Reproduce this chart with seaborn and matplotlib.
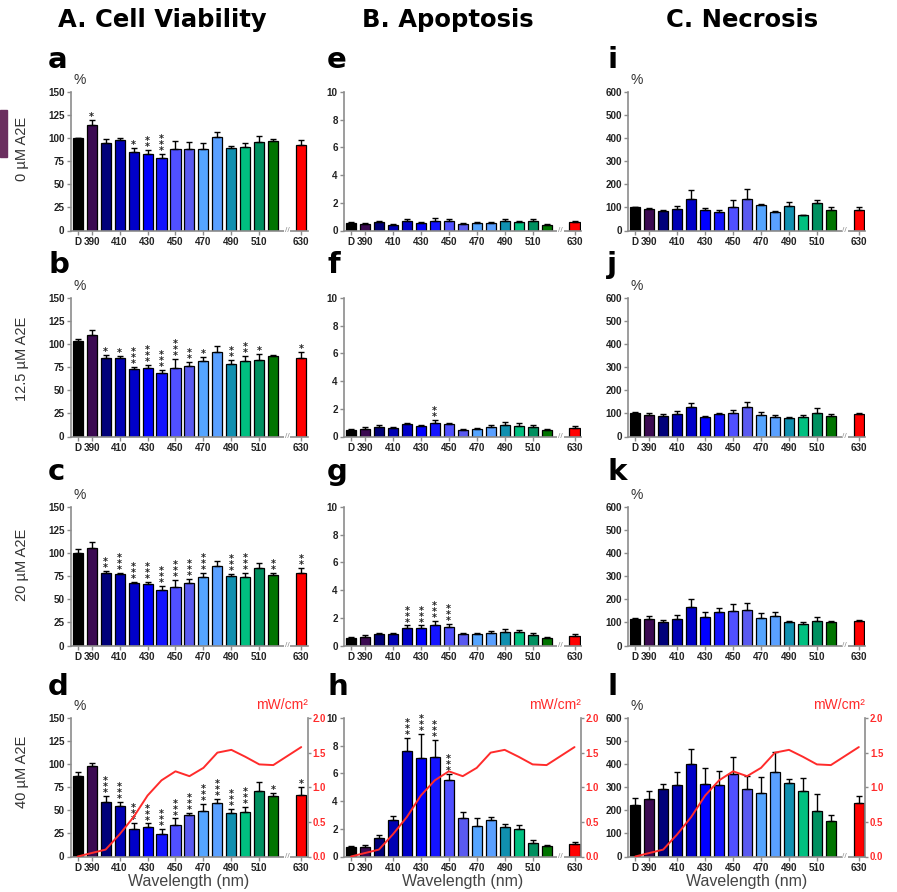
import matplotlib
matplotlib.use("Agg")
import matplotlib.pyplot as plt
import matplotlib.patches as patches
import numpy as np
import pandas as pd
import seaborn as sns

# Categorias del eje x (un hueco vacio separa 520 de 630)
longitudes = ['D', '390', '400', '410', '420', '430', '440', '450', '460',
              '470', '480', '490', '500', '510', '520', '630']
ordenEje = longitudes[:-1] + [' '] + ['630']
etiquetasX = ['D', '390', '410', '430', '450', '470', '490', '510', '630']
colores = ['#000000', '#3b0a52', '#00007a', '#0000b4', '#0000c8', '#0000ff',
           '#1414ff', '#5050ff', '#5a5af0', '#55a5ff', '#5aa0ff', '#1090b0',
           '#00c080', '#009060', '#007400', '#ff0000']

# Irradiancia de cada longitud de onda (mW/cm2)
irradiancia = [0.0, 0.05, 0.1, 0.32, 0.57, 0.88, 1.1, 1.23, 1.16, 1.28,
               1.5, 1.54, 1.44, 1.33, 1.32, 1.58]

# A. Viabilidad celular (%)
viab0 = [100, 114.5, 94.8, 97.7, 84.6, 82.8, 78.8, 88.3, 88, 88.6, 101, 89.4, 90.8, 96.3, 97, 93]
viab0Err = [0, 5.5, 4, 2, 4.5, 4, 4, 9, 7.5, 6, 5.5, 2, 4, 6, 2, 5]
viab0Sig = ['', '*', '', '', '*', '**', '***', '', '', '', '', '', '', '', '', '']

viab12 = [103, 110, 84.6, 84.6, 72.6, 74.5, 68.7, 74.5, 76.6, 82, 91, 78.8, 82, 82.8, 87.2, 85]
viab12Err = [3, 5, 3.5, 2.5, 3, 3.2, 3.3, 9.8, 3.7, 4, 7, 4, 5, 6.6, 1.4, 7]
viab12Sig = ['', '', '*', '*', '***', '***', '***', '***', '**', '*', '', '**', '**', '*', '', '*']

viab20 = [100.5, 106, 78.8, 77, 67.2, 66.1, 60, 63.6, 67.2, 73.7, 85.6, 75.2, 73.7, 84.2, 76.6, 78.3]
viab20Err = [3.5, 6, 2.2, 2, 1.5, 3, 4.3, 7.4, 5, 5.3, 5.8, 2.5, 4.7, 5.4, 2.2, 5.4]
viab20Sig = ['', '', '**', '***', '***', '***', '***', '***', '***', '***', '', '***', '***', '', '**', '**']

viab40 = [87.5, 97.5, 59, 55, 30, 32.2, 24, 34, 44.5, 49.2, 57.8, 47, 48.4, 70.8, 65.4, 67]
viab40Err = [4, 4, 6.8, 4.3, 6, 3.6, 6, 7.2, 2.8, 7.8, 4.7, 4.3, 5.1, 9.4, 3.3, 8.5]
viab40Sig = ['', '', '***', '***', '***', '***', '***', '***', '***', '***', '***', '***', '***', '', '*', '*']

# B. Apoptosis
apop0 = [0.55, 0.5, 0.6, 0.43, 0.72, 0.55, 0.72, 0.7, 0.48, 0.55, 0.53, 0.7, 0.6, 0.7, 0.4, 0.6]
apop0Err = [0.05, 0.05, 0.1, 0.05, 0.1, 0.07, 0.18, 0.1, 0.07, 0.07, 0.07, 0.15, 0.07, 0.15, 0.05, 0.1]
apop0Sig = [''] * 16

apop12 = [0.5, 0.55, 0.68, 0.58, 0.9, 0.77, 1.0, 0.92, 0.5, 0.55, 0.7, 0.85, 0.77, 0.7, 0.46, 0.6]
apop12Err = [0.05, 0.12, 0.17, 0.07, 0.07, 0.07, 0.2, 0.07, 0.05, 0.07, 0.1, 0.19, 0.2, 0.1, 0.05, 0.17]
apop12Sig = ['', '', '', '', '', '', '**', '', '', '', '', '', '', '', '', '']

apop20 = [0.55, 0.63, 0.84, 0.84, 1.25, 1.25, 1.5, 1.37, 0.84, 0.84, 0.92, 1.0, 0.94, 0.77, 0.55, 0.7]
apop20Err = [0.05, 0.1, 0.07, 0.05, 0.2, 0.2, 0.3, 0.2, 0.07, 0.07, 0.12, 0.2, 0.19, 0.1, 0.05, 0.14]
apop20Sig = ['', '', '', '', '***', '***', '***', '***', '', '', '', '', '', '', '', '']

apop40 = [0.67, 0.67, 1.33, 2.6, 7.6, 7.08, 7.18, 5.5, 2.77, 2.22, 2.6, 2.1, 2.0, 1.0, 0.77, 0.9]
apop40Err = [0.1, 0.15, 0.19, 0.3, 0.95, 1.79, 1.22, 0.43, 0.43, 0.55, 0.24, 0.26, 0.24, 0.18, 0.07, 0.18]
apop40Sig = ['', '', '', '', '***', '***', '***', '***', '', '', '', '', '', '', '', '']

# C. Necrosis (%)
necr0 = [100, 94, 84, 94, 136, 87, 82, 100, 136, 111, 80, 107, 65, 120, 87, 90]
necr0Err = [0, 3, 3, 11, 40, 10, 8, 30, 45, 5, 4, 16, 3, 13, 14, 13]
necr12 = [103, 93, 89, 97, 126, 84, 96, 102, 129, 92, 84, 81, 84, 100, 89, 97]
necr12Err = [3, 9, 7, 15, 18, 6, 7, 14, 19, 14, 9, 3, 10, 25, 10, 5]
necr20 = [116, 116, 101, 116, 166, 123, 145, 150, 155, 119, 126, 101, 91, 107, 101, 107]
necr20Err = [3, 10, 8, 16, 36, 20, 17, 31, 31, 22, 21, 3, 9, 17, 6, 3]
necr40 = [224, 247, 294, 308, 400, 312, 311, 359, 291, 276, 366, 318, 283, 196, 154, 230]
necr40Err = [29, 36, 18, 60, 65, 70, 58, 74, 58, 68, 87, 16, 58, 73, 25, 32]
necrSig = [''] * 16

filasTitulo = ['0 µM A2E', '12.5 µM A2E', '20 µM A2E', '40 µM A2E']
columnasTitulo = ['A. Cell Viability', 'B. Apoptosis', 'C. Necrosis']
letras = [['a', 'e', 'i'], ['b', 'f', 'j'], ['c', 'g', 'k'], ['d', 'h', 'l']]

sns.set_style("ticks")
plt.rcParams['font.family'] = ['Liberation Sans', 'DejaVu Sans']

GRIS = '#8c8c8c'
ROJO = '#ff2b2b'
ANCHO, ALTO = 897, 892
TAM_TICK = 7.1

posiciones = [ordenEje.index(c) for c in longitudes]
posTicks = [ordenEje.index(t) for t in etiquetasX]
paleta = dict(zip(longitudes, colores))


# Dibuja un panel de barras con barras de error hacia arriba y asteriscos
def dibujarPanel(ax, valores, errores, signif, ymax, paso, porcentaje):
    df = pd.DataFrame({'longitud': longitudes, 'valor': valores})
    sns.barplot(data=df, x='longitud', y='valor', order=ordenEje,
                hue='longitud', hue_order=longitudes, palette=paleta,
                legend=False, width=0.72, edgecolor='black', linewidth=0.9,
                saturation=1, ax=ax)
    ax.errorbar(posiciones, valores, yerr=[np.zeros(len(valores)), errores],
                fmt='none', ecolor='black', elinewidth=1.0, capsize=2.3,
                capthick=1.0, zorder=3)
    # asteriscos apilados en vertical sobre cada barra
    for p, v, e, s in zip(posiciones, valores, errores, signif):
        if s:
            ax.annotate('\n'.join(s), (p, v + e), xytext=(0, -1.5),
                        textcoords='offset points', ha='center', va='bottom',
                        fontsize=7, fontweight='bold', linespacing=0.5,
                        color='#222222', family=['DejaVu Sans'])
    ax.set_xlim(-0.5, 16.45)
    ax.set_ylim(0, ymax)
    ax.set_yticks(np.arange(0, ymax + paso / 2, paso))
    ax.set_xticks(posTicks)
    ax.set_xticklabels(etiquetasX)
    ax.set_xlabel('')
    ax.set_ylabel('')
    for lado in ['top', 'right']:
        ax.spines[lado].set_visible(False)
    for lado in ['left', 'bottom']:
        ax.spines[lado].set_color(GRIS)
        ax.spines[lado].set_linewidth(1.2)
    ax.tick_params(axis='both', length=3, width=1, color=GRIS, labelsize=TAM_TICK,
                   pad=1.5, labelcolor='#222222')
    for lbl in ax.get_xticklabels() + ax.get_yticklabels():
        lbl.set_fontweight('bold')
    # corte del eje x entre 520 y 630
    ax.text(15.0, 0, '//', ha='center', va='center', fontsize=6, color=GRIS,
            bbox=dict(fc='white', ec='none', pad=0.6), clip_on=False, zorder=5)
    if porcentaje:
        ax.text(0.01, 1.035, '%', transform=ax.transAxes, ha='left',
                va='bottom', fontsize=10, color='#333333')


# Agrega el eje derecho con la curva de irradiancia
def dibujarIrradiancia(ax):
    ax2 = ax.twinx()
    sns.lineplot(x=posiciones, y=irradiancia, ax=ax2, color=ROJO,
                 linewidth=1.4, sort=False, legend=False)
    ax2.set_xlim(-0.5, 16.45)
    ax2.set_ylim(0, 2)
    ax2.set_yticks([0, 0.5, 1.0, 1.5, 2.0])
    ax2.set_yticklabels(['0.0', '0.5', '1.0', '1.5', '2.0'])
    ax2.set_ylabel('')
    for lado in ['top', 'left', 'bottom']:
        ax2.spines[lado].set_visible(False)
    ax2.spines['right'].set_color(GRIS)
    ax2.spines['right'].set_linewidth(1.2)
    ax2.tick_params(axis='y', length=2.5, width=1, color=GRIS, labelsize=6.9,
                    pad=1, labelcolor=ROJO)
    for lbl in ax2.get_yticklabels():
        lbl.set_fontweight('bold')
    ax2.text(1.0, 1.04, 'mW/cm²', transform=ax2.transAxes, ha='right',
             va='bottom', fontsize=10, color=ROJO)


paneles = [
    [(viab0, viab0Err, viab0Sig), (apop0, apop0Err, apop0Sig), (necr0, necr0Err, necrSig)],
    [(viab12, viab12Err, viab12Sig), (apop12, apop12Err, apop12Sig), (necr12, necr12Err, necrSig)],
    [(viab20, viab20Err, viab20Sig), (apop20, apop20Err, apop20Sig), (necr20, necr20Err, necrSig)],
    [(viab40, viab40Err, viab40Sig), (apop40, apop40Err, apop40Sig), (necr40, necr40Err, necrSig)],
]
escalas = [(150, 25, True), (10, 2, False), (600, 100, True)]

izquierdas = [70.7, 344, 628.3]
anchoEje = 236.8
arribas = [92, 298, 507, 718]
altoEje = 138.5
baseLetras = [68, 273, 480, 695]
centroFilas = [149, 359, 565, 772]
xLetras = [48, 327, 607]
centroColumnas = [162, 448, 742]

fig = plt.figure(figsize=(ANCHO / 100, ALTO / 100), dpi=100)

for f in range(4):
    for c in range(3):
        ax = fig.add_axes([izquierdas[c] / ANCHO,
                           1 - (arribas[f] + altoEje) / ALTO,
                           anchoEje / ANCHO, altoEje / ALTO])
        valores, errores, signif = paneles[f][c]
        ymax, paso, porcentaje = escalas[c]
        dibujarPanel(ax, valores, errores, signif, ymax, paso, porcentaje)
        if f == 3:
            ax.set_xlabel('Wavelength (nm)', fontsize=11.5, color='#444444',
                          labelpad=1)
            dibujarIrradiancia(ax)
        fig.text(xLetras[c] / ANCHO, 1 - baseLetras[f] / ALTO, letras[f][c],
                 ha='left', va='baseline', fontsize=21, fontweight='bold',
                 color='black', family=['DejaVu Sans'])
    fig.text(22 / ANCHO, 1 - centroFilas[f] / ALTO, filasTitulo[f],
             rotation=90, ha='center', va='center', fontsize=10.5,
             color='#333333')

for c in range(3):
    fig.text(centroColumnas[c] / ANCHO, 1 - 20 / ALTO, columnasTitulo[c],
             ha='center', va='center', fontsize=17.5, fontweight='bold',
             color='black', family=['DejaVu Sans'])

# recuadro violeta del borde izquierdo
fig.add_artist(patches.Rectangle((0, 1 - 157 / ALTO), 7 / ANCHO, 47 / ALTO,
                                 transform=fig.transFigure, color='#6b2f5f'))

fig.savefig('out.png', dpi=100)
